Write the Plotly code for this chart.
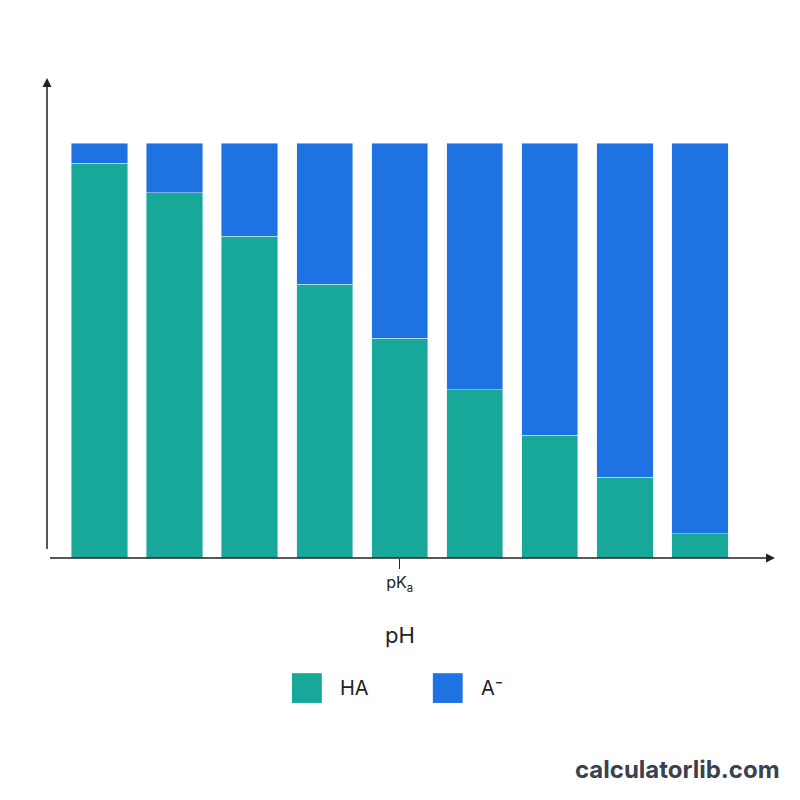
import plotly.graph_objects as go

ph_steps = list(range(9))
ha_frac = [0.952, 0.88, 0.776, 0.66, 0.53, 0.405, 0.296, 0.195, 0.058]
a_frac = [1 - v for v in ha_frac]
tick_pos = [4]
tick_text = ["pK<sub>a</sub>"]
series_names = ["HA", "A⁻"]
series_colors = ["#17A89A", "#1F72E2"]

fig = go.Figure()
fig.add_trace(go.Bar(x=ph_steps, y=ha_frac, name=series_names[0], marker_color=series_colors[0]))
fig.add_trace(go.Bar(x=ph_steps, y=a_frac, name=series_names[1], marker_color=series_colors[1]))

fig.update_layout(
    barmode="stack",
    bargap=0.25,
    width=800,
    height=800,
    margin=dict(l=39, r=33, t=70, b=250),
    plot_bgcolor="white",
    paper_bgcolor="white",
    font=dict(family="Inter, Roboto, sans-serif", color="#222"),
    showlegend=False,
)
fig.update_xaxes(range=[-0.7, 9], tickvals=tick_pos, ticktext=tick_text,
                 ticks="outside", ticklen=10, tickcolor="#222", showgrid=False,
                 zeroline=False, tickfont=dict(size=16))
fig.update_yaxes(range=[0, 1.157], showticklabels=False, showgrid=False, zeroline=False)

# axes with arrowheads
fig.add_annotation(x=1, y=0, xref="paper", yref="paper", ax=-728, ay=0,
                   showarrow=True, arrowhead=2, arrowsize=1.2, arrowwidth=1.5, arrowcolor="#222", text=" ")
fig.add_annotation(x=0, y=1, xref="paper", yref="paper", ax=0, ay=480,
                   showarrow=True, arrowhead=2, arrowsize=1.2, arrowwidth=1.5, arrowcolor="#222", text=" ")
fig.add_annotation(x=4, y=-0.16, xref="x", yref="paper", text="pH", showarrow=False,
                   font=dict(size=22), yanchor="middle")

# custom legend with large swatches
legend_x = [0.3365, 0.530]
for name, color, x0 in zip(series_names, series_colors, legend_x):
    fig.add_shape(type="rect", xref="paper", yref="paper", x0=x0, x1=x0 + 0.041,
                  y0=-0.302, y1=-0.24, fillcolor=color, line=dict(width=0))
    fig.add_annotation(x=x0 + 0.063, y=-0.271, xref="paper", yref="paper", text=name,
                       showarrow=False, xanchor="left", yanchor="middle", font=dict(size=20))

fig.add_annotation(x=1.01, y=-0.44, xref="paper", yref="paper", text="<b>calculatorlib.com</b>",
                   showarrow=False, xanchor="right", yanchor="middle",
                   font=dict(size=24, color="#3a4150"))

fig.write_html("out.html")
